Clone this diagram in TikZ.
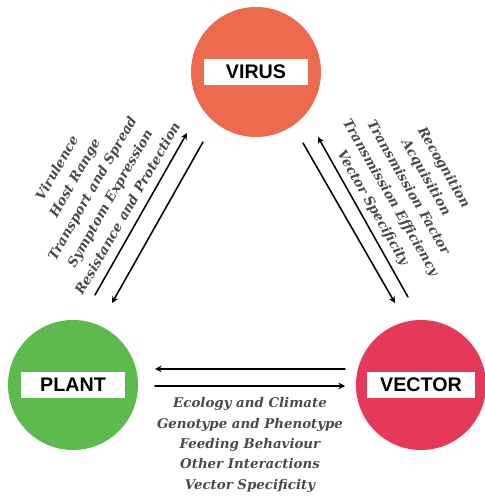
\documentclass[tikz,border=0pt]{standalone}
\usepackage{fontspec}
\newfontfamily\labelfont{Liberation Sans}
\newfontfamily\notefont{DejaVu Serif}
\definecolor{virusred}{HTML}{EE6A4E}
\definecolor{plantgreen}{HTML}{5CBB4C}
\definecolor{vectorred}{HTML}{E6395A}
\definecolor{notegray}{HTML}{4A4A4A}
\tikzset{
  disc/.style={circle, minimum size=3.25cm, inner sep=0pt},
  tag/.style={fill=white, minimum width=2.6cm, minimum height=0.65cm, inner sep=0pt,
    font=\labelfont\fontsize{14}{16}\selectfont\bfseries},
  note/.style={align=center, text=notegray, inner sep=0pt,
    font=\notefont\fontsize{9.5}{14.5}\selectfont\bfseries\itshape},
  link/.style={line width=1.1pt}
}
\begin{document}
\begin{tikzpicture}[x=0.025cm, y=0.025cm, >=stealth, line join=round, line cap=round]
  \def\xmax{485} \def\ymax{496}
  \useasboundingbox (0,0) rectangle (\xmax,\ymax);
  % the three partners
  \node[disc, fill=virusred] (virus) at (256,424) {};
  \node[disc, fill=plantgreen] (plant) at (73,111) {};
  \node[disc, fill=vectorred] (vector) at (421,111) {};
  \node[tag] (viruslabel) at (virus) {VIRUS};
  \node[tag] (plantlabel) at (plant) {PLANT};
  \node[tag, minimum width=2.72cm] (vectorlabel) at (vector) {VECTOR};
  % arrow ends
  \coordinate (pv1) at (95,201);  \coordinate (pv2) at (187,363);
  \coordinate (vp1) at (203,354); \coordinate (vp2) at (112,193);
  \coordinate (vv1) at (303,353); \coordinate (vv2) at (395,193);
  \coordinate (tv1) at (408,199); \coordinate (tv2) at (318,359);
  \coordinate (tp1) at (345,127); \coordinate (tp2) at (155,127);
  \coordinate (pt1) at (155,110); \coordinate (pt2) at (345,110);
  \draw[link,->] (pv1)--(pv2);
  \draw[link,->] (vp1)--(vp2);
  \draw[link,->] (vv1)--(vv2);
  \draw[link,->] (tv1)--(tv2);
  \draw[link,->] (tp1)--(tp2);
  \draw[link,->] (pt1)--(pt2);
  % what passes between them
  \node[note, rotate=60] (plantvirus) at (92,308) {Virulence\\Host Range\\Transport and Spread\\Symptom Expression\\Resistance and Protection};
  \node[note, rotate=-60] (virusvector) at (408,308) {Recognition\\Acquisition\\Transmission Factor\\Transmission Efficiency\\Vector Specificity};
  \node[note] (plantvector) at (250,51) {Ecology and Climate\\Genotype and Phenotype\\Feeding Behaviour\\Other Interactions\\Vector Specificity};
\end{tikzpicture}
\end{document}
